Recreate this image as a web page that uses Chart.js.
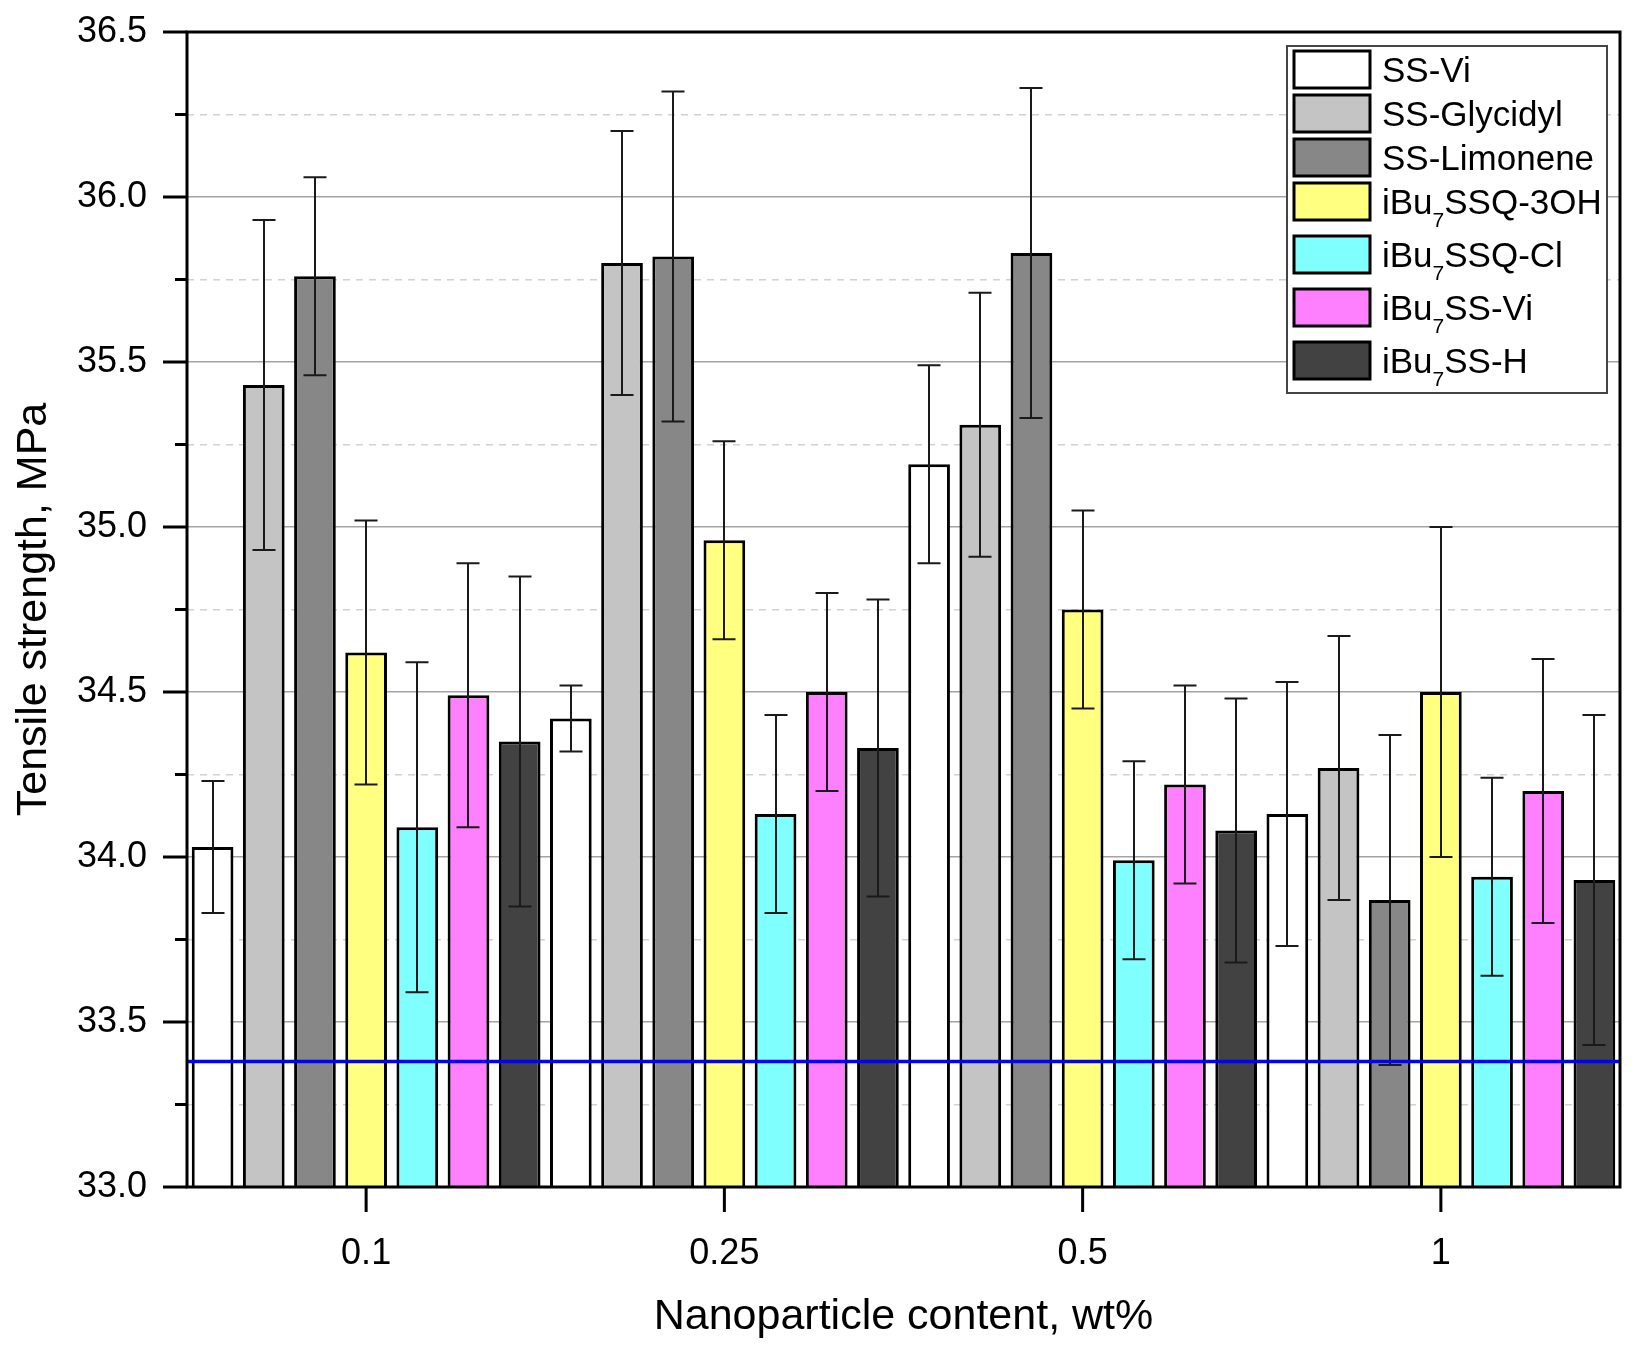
<!DOCTYPE html>
<html>
<head>
<meta charset="utf-8">
<script src="https://cdn.jsdelivr.net/npm/chart.js@4.4.1/dist/chart.umd.min.js"></script>
<style>
  body { margin: 0; background: #fff; }
</style>
</head>
<body>
<canvas id="chart" width="1635" height="1351"></canvas>
<script>
// Datos
const groups = ['0.1', '0.25', '0.5', '1'];
const seriesNames = ['SS-Vi', 'SS-Glycidyl', 'SS-Limonene', 'iBu₇SSQ-3OH', 'iBu₇SSQ-Cl', 'iBu₇SS-Vi', 'iBu₇SS-H'];
const seriesColors = ['#ffffff', '#c4c4c4', '#878787', '#ffff80', '#80ffff', '#ff80ff', '#424242'];

const ssVi = [34.03, 34.42, 35.19, 34.13];
const ssViErr = [0.2, 0.1, 0.3, 0.4];
const ssGlycidyl = [35.43, 35.80, 35.31, 34.27];
const ssGlycidylErr = [0.5, 0.4, 0.4, 0.4];
const ssLimonene = [35.76, 35.82, 35.83, 33.87];
const ssLimoneneErr = [0.3, 0.5, 0.5, 0.5];
const ssq3oh = [34.62, 34.96, 34.75, 34.50];
const ssq3ohErr = [0.4, 0.3, 0.3, 0.5];
const ssqCl = [34.09, 34.13, 33.99, 33.94];
const ssqClErr = [0.5, 0.3, 0.3, 0.3];
const ibuSsVi = [34.49, 34.50, 34.22, 34.20];
const ibuSsViErr = [0.4, 0.3, 0.3, 0.4];
const ibuSsH = [34.35, 34.33, 34.08, 33.93];
const ibuSsHErr = [0.5, 0.45, 0.4, 0.5];

// Valor de referencia (línea azul)
const referenceValue = 33.38;

const yMin = 33.0;
const yMax = 36.5;
const yStep = 0.25;

const seriesValues = [ssVi, ssGlycidyl, ssLimonene, ssq3oh, ssqCl, ibuSsVi, ibuSsH];
const seriesErrors = [ssViErr, ssGlycidylErr, ssLimoneneErr, ssq3ohErr, ssqClErr, ibuSsViErr, ibuSsHErr];

const FONT = '"Liberation Sans", Arial, sans-serif';

const isMajor = v => Math.abs(v * 2 - Math.round(v * 2)) < 1e-6;

// Barras de error
const errorBars = {
    id: 'errorBars',
    afterDatasetsDraw(chart) {
        const ctx = chart.ctx;
        const y = chart.scales.y;
        ctx.save();
        ctx.strokeStyle = '#1a1a1a';
        ctx.lineWidth = 2;
        chart.data.datasets.forEach((ds, i) => {
            const meta = chart.getDatasetMeta(i);
            meta.data.forEach((bar, j) => {
                const v = ds.data[j];
                const e = ds.errors[j];
                const top = y.getPixelForValue(v + e);
                const bot = y.getPixelForValue(v - e);
                const x = Math.round(bar.x);
                ctx.beginPath();
                ctx.moveTo(x, top);
                ctx.lineTo(x, bot);
                ctx.moveTo(x - 11.5, top);
                ctx.lineTo(x + 11.5, top);
                ctx.moveTo(x - 11.5, bot);
                ctx.lineTo(x + 11.5, bot);
                ctx.stroke();
            });
        });
        // línea de referencia
        const area = chart.chartArea;
        const ry = y.getPixelForValue(referenceValue);
        ctx.strokeStyle = '#0000ff';
        ctx.lineWidth = 3.5;
        ctx.beginPath();
        ctx.moveTo(area.left, ry);
        ctx.lineTo(area.right, ry);
        ctx.stroke();
        ctx.restore();
    }
};

// Marco, marcas de los ejes y leyenda
const frameAndLegend = {
    id: 'frameAndLegend',
    afterDraw(chart) {
        const ctx = chart.ctx;
        const area = chart.chartArea;
        const x = chart.scales.x;
        const y = chart.scales.y;
        ctx.save();
        ctx.strokeStyle = '#000';
        ctx.lineWidth = 3;
        ctx.strokeRect(area.left, area.top, area.right - area.left, area.bottom - area.top);

        ctx.beginPath();
        y.ticks.forEach(t => {
            const py = y.getPixelForValue(t.value);
            ctx.moveTo(area.left - (isMajor(t.value) ? 24 : 12), py);
            ctx.lineTo(area.left, py);
        });
        groups.forEach((g, i) => {
            const px = x.getPixelForValue(i);
            ctx.moveTo(px, area.bottom);
            ctx.lineTo(px, area.bottom + 25);
        });
        ctx.stroke();

        // Leyenda
        const lx = 1287, ly = 46, lw = 320, lh = 347;
        ctx.fillStyle = '#fff';
        ctx.fillRect(lx, ly, lw, lh);
        ctx.strokeStyle = '#444';
        ctx.lineWidth = 2;
        ctx.strokeRect(lx, ly, lw, lh);

        let rowY = 51;
        chart.data.datasets.forEach(ds => {
            const hasSub = ds.label.includes('₇');
            ctx.fillStyle = ds.backgroundColor;
            ctx.fillRect(1294, rowY, 76, 37);
            ctx.strokeStyle = '#000';
            ctx.lineWidth = 3;
            ctx.strokeRect(1294, rowY, 76, 37);

            const base = rowY + 18.5 + 12.5;
            ctx.fillStyle = '#000';
            ctx.textBaseline = 'alphabetic';
            ctx.textAlign = 'left';
            let tx = 1382;
            const parts = ds.label.split('₇');
            parts.forEach((p, k) => {
                ctx.font = '35px ' + FONT;
                ctx.fillText(p, tx, base);
                tx += ctx.measureText(p).width;
                if (k < parts.length - 1) {
                    ctx.font = '21px ' + FONT;
                    ctx.fillText('7', tx, base + 13);
                    tx += ctx.measureText('7').width;
                }
            });
            rowY += hasSub ? 53 : 44;
        });
        ctx.restore();
    }
};

const datasets = seriesNames.map((name, i) => ({
    label: name,
    data: seriesValues[i],
    errors: seriesErrors[i],
    backgroundColor: seriesColors[i],
    borderColor: '#000',
    borderWidth: 3,
    borderSkipped: 'start',
    barPercentage: 0.815,
    categoryPercentage: 1.0
}));

const ctx = document.getElementById('chart').getContext('2d');
new Chart(ctx, {
    type: 'bar',
    data: {
        labels: groups,
        datasets: datasets
    },
    options: {
        responsive: false,
        animation: false,
        layout: {
            padding: { top: 32, right: 15, left: 0, bottom: 0 }
        },
        plugins: {
            legend: { display: false },
            tooltip: { enabled: false }
        },
        scales: {
            x: {
                grid: { display: false },
                border: { display: false },
                ticks: {
                    color: '#000',
                    padding: 37,
                    font: { family: FONT, size: 36 }
                },
                title: {
                    display: true,
                    text: 'Nanoparticle content, wt%',
                    color: '#000',
                    padding: { top: 0, bottom: 8 },
                    font: { family: FONT, size: 43 }
                },
                afterFit(scale) { scale.height = 164; }
            },
            y: {
                min: yMin,
                max: yMax,
                grid: {
                    drawTicks: true,
                    tickLength: 32,
                    tickColor: 'rgba(0,0,0,0)',
                    lineWidth: 1.5,
                    color: c => (c.tick && isMajor(c.tick.value)) ? '#a3a3a3' : '#d2d2d2'
                },
                border: {
                    display: false,
                    dash: c => (c.tick && isMajor(c.tick.value)) ? [] : [7, 6]
                },
                ticks: {
                    stepSize: yStep,
                    autoSkip: false,
                    color: '#000',
                    padding: 8,
                    font: { family: FONT, size: 36 },
                    callback: v => isMajor(v) ? v.toFixed(1) : ''
                },
                title: {
                    display: true,
                    text: 'Tensile strength, MPa',
                    color: '#000',
                    padding: { top: 8, bottom: 0 },
                    font: { family: FONT, size: 43 }
                },
                afterFit(scale) { scale.width = 187; }
            }
        }
    },
    plugins: [errorBars, frameAndLegend]
});
</script>
</body>
</html>
